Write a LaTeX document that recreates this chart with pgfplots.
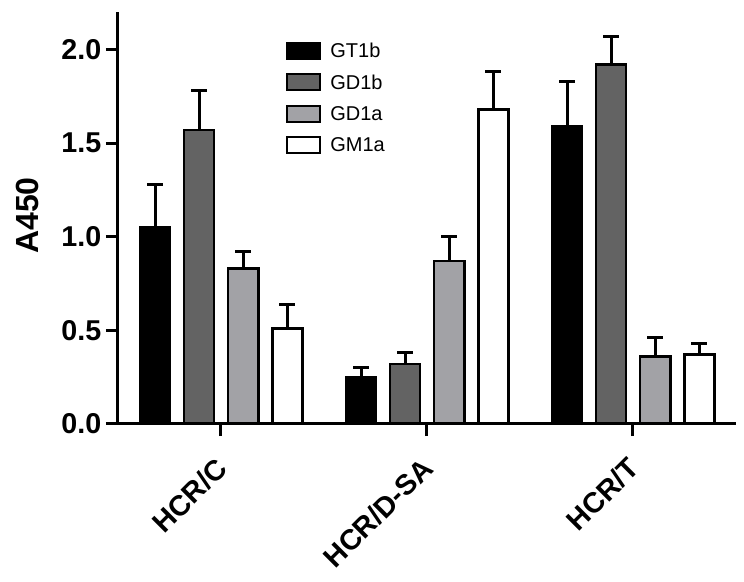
\documentclass[border=0pt]{standalone}
\usepackage{fontspec}
\setmainfont{Liberation Sans}
\usepackage{pgfplots}
\pgfplotsset{compat=1.18}
\definecolor{gdb}{HTML}{636363}
\definecolor{gda}{HTML}{A2A2A6}
\pgfplotsset{
  gbar/.style={ybar, bar shift=0pt, bar width=0.146, draw=black, line width=1.9pt, fill=#1,
    error bars/y dir=plus, error bars/y explicit,
    error bars/error bar style={line width=2.25pt, black},
    error bars/error mark options={line width=2.25pt, mark size=6pt, black, rotate=90}},
}
\begin{document}
\begin{tikzpicture}
\begin{axis}[
  scale only axis, width=463.5pt, height=309pt,
  xmin=-0.5, xmax=2.5, ymin=0, ymax=2.2,
  axis x line*=bottom, axis y line*=left,
  axis line style={line width=2.25pt, black},
  axis on top, clip=false,
  xtick={0,1,2}, xticklabels={HCR/C,HCR/D-SA,HCR/T},
  ytick={0,0.5,1.0,1.5,2.0},
  yticklabel style={/pgf/number format/.cd, fixed, fixed zerofill, precision=1, assume math mode=true},
  tick align=outside, major tick length=9pt,
  major tick style={line width=2.25pt, black},
  ticklabel style={font=\fontsize{21.5}{21.5}\selectfont\bfseries},
  xticklabel style={yshift=-18pt, xshift=3pt, rotate=45, anchor=east},
  ylabel={A450},
  ylabel style={font=\fontsize{24}{24}\selectfont\bfseries, at={(axis description cs:-0.1465,0.506)}, anchor=center},
  legend style={at={(axis description cs:0.272,0.929)}, anchor=north west, draw=none, fill=none,
    font=\fontsize{15}{15}\selectfont, inner sep=0pt, row sep=10pt, column sep=6.75pt,
    nodes={inner sep=0pt}},
  legend cell align=left,
  legend image code/.code={\draw[#1, line width=1.5pt] (0pt,-5.25pt) rectangle (24.75pt,6.75pt);},
]
  \coordinate (o) at (axis cs:-0.5,0);
  % GT1b
  \addplot[gbar=black] coordinates {(-0.32,1.05) +- (0,0.23) (0.68,0.25) +- (0,0.05) (1.68,1.59) +- (0,0.24)};
  \addlegendentry{GT1b}
  % GD1b
  \addplot[gbar=gdb] coordinates {(-0.106,1.57) +- (0,0.21) (0.894,0.32) +- (0,0.06) (1.894,1.92) +- (0,0.15)};
  \addlegendentry{GD1b}
  % GD1a
  \addplot[gbar=gda] coordinates {(0.108,0.83) +- (0,0.09) (1.108,0.87) +- (0,0.13) (2.108,0.36) +- (0,0.10)};
  \addlegendentry{GD1a}
  % GM1a
  \addplot[gbar=white] coordinates {(0.322,0.51) +- (0,0.13) (1.322,1.68) +- (0,0.20) (2.322,0.37) +- (0,0.06)};
  \addlegendentry{GM1a}
\end{axis}
\useasboundingbox (o) ++(-88.5pt,-118.5pt) rectangle ++(558pt,436.5pt);
\end{tikzpicture}
\end{document}
